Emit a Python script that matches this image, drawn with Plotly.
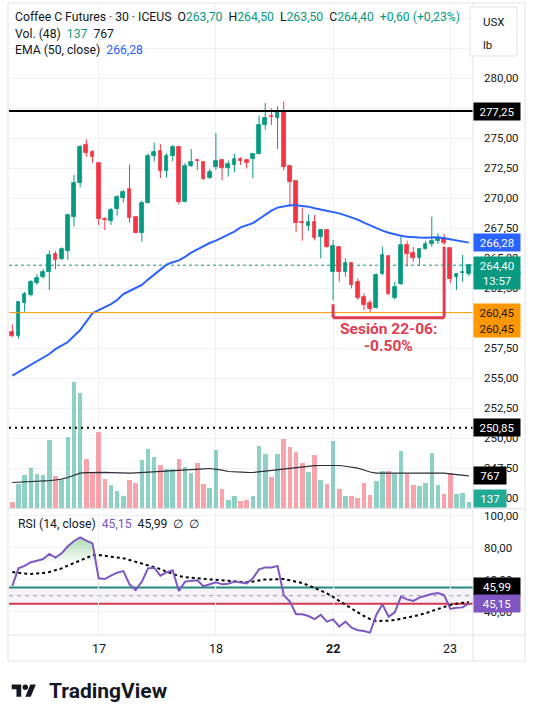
import numpy as np
import plotly.graph_objects as go

W, H = 535, 709

# 30-minute bars, oldest first (last bar = 23 Jun, 13:30)
opens = [258.83, 258.53, 261.28, 261.94, 262.94, 263.44, 263.86, 265.33, 264.89, 265.61,
         268.44, 271.22, 274.39, 273.83, 272.89, 268.22, 268.11, 269.11, 270.03, 270.72,
         268.39, 267.11, 269.61, 273.53, 273.94, 272.25, 273.53, 274.25, 269.70, 272.70,
         273.17, 273.00, 271.64, 272.61, 273.14, 272.50, 272.72, 273.22, 273.17, 273.22,
         273.70, 276.08, 276.81, 276.69, 277.14, 272.67, 271.42, 268.00, 267.67, 268.00,
         266.78, 267.33, 263.86, 265.94, 263.86, 264.56, 263.03, 261.78, 261.22, 260.86,
         263.64, 265.15, 261.70, 262.80, 266.08, 265.39, 265.03, 265.72, 266.17, 266.44,
         266.64, 265.83, 263.44, 263.72, 263.70]
highs = [259.47, 261.40, 262.17, 263.17, 263.67, 264.06, 265.61, 265.56, 265.89, 268.60,
         271.92, 274.42, 274.89, 274.00, 272.90, 268.39, 269.17, 270.22, 270.67, 272.78,
         268.40, 269.78, 273.72, 274.61, 274.50, 273.72, 274.42, 274.36, 272.92, 274.08,
         273.22, 273.00, 272.42, 275.42, 273.17, 273.14, 273.70, 273.39, 273.20, 273.70,
         276.86, 277.92, 277.47, 277.64, 278.03, 272.67, 271.45, 269.20, 268.64, 268.58,
         267.40, 267.39, 266.50, 265.96, 264.97, 264.60, 263.30, 262.05, 261.50, 263.72,
         265.94, 265.20, 263.03, 266.80, 266.44, 265.94, 265.80, 266.44, 268.44, 267.06,
         267.00, 265.85, 263.72, 265.25, 264.50]
lows = [258.40, 258.28, 260.53, 261.80, 262.75, 263.28, 262.33, 264.06, 264.83, 264.86,
        267.61, 270.89, 273.44, 272.94, 267.75, 267.33, 267.75, 268.53, 269.61, 267.94,
        267.10, 266.36, 269.55, 273.03, 271.64, 271.70, 273.08, 269.47, 269.67, 272.58,
        272.31, 271.50, 271.58, 272.33, 271.47, 271.78, 272.14, 272.75, 272.47, 271.64,
        273.64, 275.70, 276.08, 274.06, 272.33, 269.28, 267.14, 266.44, 267.25, 266.47,
        264.97, 265.85, 261.45, 263.03, 263.44, 262.47, 261.50, 260.67, 260.45, 260.80,
        263.58, 261.92, 261.55, 262.75, 264.30, 264.69, 264.33, 265.70, 265.94, 266.17,
        266.08, 262.89, 262.33, 263.03, 263.50]
closes = [258.47, 261.30, 262.00, 262.97, 263.31, 263.81, 265.22, 264.86, 265.72, 268.56,
          271.22, 274.22, 273.78, 273.44, 268.22, 268.17, 269.00, 270.05, 270.50, 268.31,
          267.11, 269.61, 273.50, 273.83, 272.28, 273.53, 274.25, 269.64, 272.67, 272.97,
          273.08, 271.61, 272.20, 273.08, 272.53, 272.80, 273.28, 273.06, 272.94, 273.64,
          276.08, 276.69, 276.75, 277.14, 272.56, 271.36, 267.92, 267.94, 268.00, 266.64,
          267.33, 265.94, 265.98, 263.80, 264.56, 262.75, 261.64, 261.10, 260.75, 263.58,
          265.22, 261.97, 262.61, 266.05, 265.36, 265.03, 265.78, 266.17, 266.44, 266.64,
          266.22, 263.22, 263.70, 263.80, 264.40]
volume = [138, 574, 791, 961, 816, 791, 1638, 767, 670, 1711,
          3042, 2776, 1179, 854, 1832, 695, 549, 404, 283, 670,
          598, 1154, 1421, 1227, 1033, 937, 937, 1179, 985, 840,
          1082, 574, 477, 1396, 453, 186, 283, 162, 186, 283,
          1493, 1300, 750, 1300, 1663, 1469, 1355, 1082, 864, 1275,
          670, 574, 1614, 453, 283, 283, 235, 598, 307, 646,
          888, 888, 816, 1372, 816, 549, 525, 598, 1324, 549,
          332, 840, 332, 356, 137]
vol_ma = [605, 610, 615, 620, 624, 629, 649, 666, 685, 726,
          787, 830, 842, 849, 854, 849, 845, 837, 832, 830,
          837, 847, 862, 871, 881, 891, 895, 903, 910, 920,
          927, 937, 944, 932, 903, 871, 859, 854, 849, 847,
          864, 878, 895, 910, 927, 944, 968, 992, 1009, 1014,
          1016, 1021, 1024, 1016, 999, 975, 951, 908, 859, 830,
          830, 830, 830, 835, 840, 842, 845, 847, 842, 837,
          830, 813, 799, 779, 767]
ema50 = [255.2, 255.5, 255.8, 256.1, 256.4, 256.7, 257.0, 257.4, 257.7, 258.0,
         258.5, 259.0, 259.7, 260.4, 260.65, 260.9, 261.15, 261.5, 262.0, 262.25,
         262.5, 262.75, 263.2, 263.6, 264.0, 264.45, 264.65, 264.8, 265.1, 265.45,
         265.72, 266.0, 266.25, 266.45, 266.7, 267.0, 267.2, 267.55, 267.7, 267.9,
         268.25, 268.6, 268.95, 269.2, 269.33, 269.4, 269.4, 269.35, 269.28, 269.15,
         269.05, 268.95, 268.85, 268.72, 268.55, 268.4, 268.2, 267.95, 267.72, 267.48,
         267.28, 267.1, 266.95, 266.85, 266.78, 266.72, 266.7, 266.69, 266.7, 266.72,
         266.65, 266.55, 266.45, 266.35, 266.28]
rsi = [56.1, 67.1, 68.6, 70.9, 71.9, 72.9, 76.1, 73.8, 76.5, 80.9,
       84.2, 86.5, 84.4, 82.7, 60.9, 60.4, 62.5, 64.4, 65.4, 57.1,
       53.6, 58.8, 67.1, 67.5, 62.5, 64.6, 65.9, 52.9, 58.8, 59.4,
       59.6, 55.9, 57.1, 58.4, 57.1, 57.5, 58.8, 58.2, 57.7, 60.9,
       66.5, 67.7, 67.7, 68.6, 50.4, 46.3, 38.4, 38.4, 37.3, 35.4,
       38.0, 33.8, 35.2, 30.7, 33.8, 30.0, 28.4, 27.9, 26.9, 38.0,
       44.6, 36.9, 39.6, 49.4, 47.7, 46.7, 48.8, 50.0, 51.1, 51.7,
       50.4, 41.7, 42.5, 42.7, 45.15]
rsi_ma = [64.8, 64.2, 63.8, 63.6, 63.8, 64.2, 64.8, 65.9, 67.1, 68.8,
          70.4, 72.1, 73.8, 75.2, 75.4, 75.0, 74.6, 74.0, 73.4, 72.3,
          71.1, 70.0, 69.0, 67.9, 66.7, 65.0, 63.4, 62.3, 61.5, 61.1,
          60.7, 60.4, 60.2, 60.0, 59.8, 59.4, 59.0, 58.6, 58.4, 58.8,
          59.6, 60.2, 60.2, 60.4, 60.4, 59.6, 58.8, 57.9, 56.5, 55.0,
          53.4, 51.5, 49.2, 46.7, 44.6, 42.1, 39.6, 37.3, 35.4, 34.2,
          34.2, 34.4, 34.8, 35.4, 36.3, 37.1, 37.9, 39.0, 40.4, 41.7,
          43.1, 44.2, 45.0, 45.4, 45.99]

day_ticks = [14, 33, 52, 71]          # first bar of each session
day_labels = ["17", "18", "<b>22</b>", "23"]
price_ticks = [245.0, 247.5, 250.0, 252.5, 255.0, 257.5, 260.0, 262.5, 265.0,
               267.5, 270.0, 272.5, 275.0, 277.5, 280.0, 282.5, 285.0]
price_labels = [245.0, 247.5, 250.0, 252.5, 255.0, 257.5, 262.5, 265.0,
                267.5, 270.0, 272.5, 275.0, 280.0]
rsi_ticks = [40, 60, 80, 100]

# drawn levels
resistance = 277.25
support = 260.45
low_line = 250.85
rsi_upper, rsi_mid, rsi_lower = 55.2, 50, 45
session_start, session_end = 52, 70

GREEN = "#089981"
RED = "#f23645"
TXT = "#131722"
GRID = "#eef0f4"
BORDER = "#e0e3eb"
ANNOT = "#e23c50"


def px(x):
    return x / W


def py(y):
    return 1 - y / H


def fmt(v):
    return f"{v:.2f}".replace(".", ",")


idx = np.arange(len(opens))
o, hi, lo, c = map(np.array, (opens, highs, lows, closes))
up = c >= o
col = np.where(up, GREEN, RED)
vol_col = np.where(up, "rgba(8,153,129,0.45)", "rgba(242,54,69,0.45)")

fig = go.Figure()

# volume (overlay on price pane)
fig.add_trace(go.Bar(x=idx, y=volume, width=0.74, marker=dict(color=vol_col, line_width=0),
                     xaxis="x", yaxis="y3", hoverinfo="skip"))
fig.add_trace(go.Scatter(x=idx, y=vol_ma, mode="lines", line=dict(color="#2a2e39", width=1.2),
                         xaxis="x", yaxis="y3", hoverinfo="skip"))

# candles: wicks + bodies
for mask, colr in ((up, GREEN), (~up, RED)):
    wx, wy = [], []
    for i in idx[mask]:
        wx += [i, i, None]
        wy += [lo[i], hi[i], None]
    fig.add_trace(go.Scatter(x=wx, y=wy, mode="lines", line=dict(color=colr, width=1),
                             xaxis="x", yaxis="y", hoverinfo="skip"))
fig.add_trace(go.Bar(x=idx, y=np.abs(c - o), base=np.minimum(o, c), width=0.6,
                     marker=dict(color=col, line=dict(color=col, width=0.8)),
                     xaxis="x", yaxis="y", hoverinfo="skip"))

fig.add_trace(go.Scatter(x=idx, y=ema50, mode="lines", line=dict(color="#2962ff", width=2),
                         xaxis="x", yaxis="y", hoverinfo="skip"))

# RSI pane
rsi_arr = np.array(rsi)
fig.add_trace(go.Scatter(x=idx, y=[70] * len(idx), mode="lines", line=dict(width=0),
                         xaxis="x2", yaxis="y2", hoverinfo="skip"))
fig.add_trace(go.Scatter(x=idx, y=np.maximum(rsi_arr, 70), mode="lines", line=dict(width=0),
                         fill="tonexty",
                         fillgradient=dict(type="vertical", start=70, stop=88,
                                           colorscale=[[0, "rgba(76,175,80,0)"],
                                                       [1, "rgba(76,175,80,0.5)"]]),
                         xaxis="x2", yaxis="y2", hoverinfo="skip"))
fig.add_trace(go.Scatter(x=idx, y=rsi_ma, mode="lines",
                         line=dict(color="#000000", width=2, dash="3px,3px"),
                         xaxis="x2", yaxis="y2", hoverinfo="skip"))
fig.add_trace(go.Scatter(x=idx, y=rsi, mode="lines", line=dict(color="#7e57c2", width=2),
                         xaxis="x2", yaxis="y2", hoverinfo="skip"))

xr = [-0.535, 74.68]
axis_common = dict(showticklabels=False, ticks="", zeroline=False, showline=False,
                   gridcolor=GRID, gridwidth=1, fixedrange=True)

fig.update_layout(
    width=W, height=H, margin=dict(l=0, r=0, t=0, b=0),
    paper_bgcolor="white", plot_bgcolor="white",
    showlegend=False, barmode="overlay", bargap=0,
    font=dict(family="Roboto, sans-serif", size=11, color=TXT),
    xaxis=dict(domain=[px(9), px(473)], range=xr, tickvals=day_ticks, anchor="y", **axis_common),
    yaxis=dict(domain=[py(508), py(4)], range=[275 - 370 / 12, 275 + 134 / 12],
               tickvals=price_ticks, anchor="x", **axis_common),
    yaxis3=dict(overlaying="y", range=[-12, 12185], visible=False, anchor="x", fixedrange=True),
    xaxis2=dict(domain=[px(9), px(473)], range=xr, tickvals=day_ticks, anchor="y2", **axis_common),
    yaxis2=dict(domain=[py(635), py(509)], range=[25.4375, 104.1875],
                tickvals=rsi_ticks, anchor="x2", **axis_common),
)

shapes = []


def hline(y, yref, color, width, dash="solid", layer="above"):
    shapes.append(dict(type="line", xref="paper", yref=yref, x0=px(9), x1=px(473), y0=y, y1=y,
                       line=dict(color=color, width=width, dash=dash), layer=layer))


def pline(x0, y0, x1, y1, color=BORDER, width=1):
    shapes.append(dict(type="line", xref="paper", yref="paper", x0=px(x0), x1=px(x1),
                       y0=py(y0), y1=py(y1), line=dict(color=color, width=width), layer="above"))


# price pane levels
hline(resistance, "y", "#000000", 2)
hline(support, "y", "#ff9800", 1)
hline(closes[-1], "y", GREEN, 1, "dot")
hline(low_line, "y", "#000000", 2, "2px,4px")

# RSI bands
shapes.append(dict(type="rect", xref="paper", yref="y2", x0=px(9), x1=px(473),
                   y0=rsi_lower, y1=rsi_upper, fillcolor="rgba(126,87,194,0.08)",
                   line_width=0, layer="below"))
hline(rsi_mid, "y2", "#9598a1", 1, "4px,4px", "below")
hline(rsi_upper, "y2", "#22897c", 2, layer="below")
hline(rsi_lower, "y2", "#d6384d", 2, layer="below")

# session bracket
bottom = 260.02
for x0, y0, x1, y1 in ((session_start, 261.15, session_start, bottom),
                       (session_start, bottom, session_end, bottom),
                       (session_end, bottom, session_end, 265.95)):
    shapes.append(dict(type="line", xref="x", yref="y", x0=x0, y0=y0, x1=x1, y1=y1,
                       line=dict(color=ANNOT, width=3), layer="above"))

# frame and pane separators
shapes.append(dict(type="rect", xref="paper", yref="paper", x0=px(8), x1=px(525),
                   y0=py(661), y1=py(3), line=dict(color=BORDER, width=1), layer="above"))
pline(473, 3, 473, 661)
pline(8, 508.5, 525, 508.5)
pline(8, 635, 525, 635)

# currency / unit box
shapes.append(dict(type="rect", xref="paper", yref="paper", x0=px(470), x1=px(517),
                   y0=py(56), y1=py(7), line=dict(color=BORDER, width=1),
                   fillcolor="white", layer="above"))


# TradingView logo
def poly(pts):
    return "M " + " L ".join(f"{px(x):.5f},{py(y):.5f}" for x, y in pts) + " Z"


lx, ly, s = 11.7, 684.5, 0.68
tv_t = [(14, 22), (7, 22), (7, 11), (0, 11), (0, 4), (14, 4)]
tv_v = [(28, 22), (20, 22), (27.5, 4), (35.5, 4)]
for pts in (tv_t, tv_v):
    shapes.append(dict(type="path", xref="paper", yref="paper",
                       path=poly([(lx + a * s, ly + (b - 4) * s) for a, b in pts]),
                       fillcolor=TXT, line_width=0, layer="above"))
cx, cy, r = lx + 20 * s, ly + 4 * s, 4 * s
shapes.append(dict(type="circle", xref="paper", yref="paper", x0=px(cx - r), x1=px(cx + r),
                   y0=py(cy + r), y1=py(cy - r), fillcolor=TXT, line_width=0, layer="above"))

ann = []


def text(x, y, t, size=11, color=TXT, anchor="left", **kw):
    ann.append(dict(x=px(x), y=py(y), xref="paper", yref="paper", xanchor=anchor,
                    yanchor="middle", text=t, showarrow=False,
                    font=dict(size=size, color=color), **kw))


def g(t, color=GREEN):
    return f"<span style='color:{color}'>{t}</span>"


sp = "\u00a0\u00a0"
chg = closes[-1] - closes[-2]
pct = chg / closes[-2] * 100
line1 = ("Coffee C Futures · 30 · ICEUS" + sp +
         "O" + g(fmt(opens[-1])) + sp + "H" + g(fmt(highs[-1])) + sp +
         "L" + g(fmt(lows[-1])) + sp + "C" + g(fmt(closes[-1])) + sp +
         g(f"+{fmt(chg)} (+{fmt(pct)}%)"))
text(13, 17, line1, size=12.2)
text(13, 34, "Vol. (48)" + sp + g(str(volume[-1])) + sp + str(vol_ma[-1]), size=12.2)
text(13, 50, "EMA (50, close)" + sp + g(fmt(ema50[-1]), "#2962ff"), size=12.2)
text(16, 524, "RSI (14, close)" + sp + g(fmt(rsi[-1]), "#7e57c2") + sp +
     fmt(rsi_ma[-1]) + sp + "∅" + sp + "∅", size=12.2)
text(481, 22, "USX", size=11.5)
text(481, 45, "lb", size=11.5)

# price / RSI axis labels
for p in price_labels:
    ann.append(dict(x=px(482), xref="paper", xanchor="left", y=p, yref="y", text=fmt(p),
                    showarrow=False, font=dict(size=11.5, color=TXT)))
for t in rsi_ticks:
    ann.append(dict(x=px(482), xref="paper", xanchor="left", y=t, yref="y2", text=fmt(t),
                    showarrow=False, font=dict(size=11.5, color=TXT)))


def tag(t, y, yref, bg, fg="white", w=42, yshift=0):
    ann.append(dict(x=px(473), xref="paper", xanchor="left", y=y, yref=yref, yanchor="middle",
                    text=t, showarrow=False, bgcolor=bg, font=dict(size=11.5, color=fg),
                    width=w, height=13, borderpad=2, align="center", yshift=yshift))


tag(fmt(resistance), resistance, "y", "#000000")
tag(fmt(ema50[-1]), ema50[-1], "y", "#2962ff")
tag(fmt(closes[-1]), closes[-1], "y", GREEN)
tag("13:57", closes[-1], "y", GREEN, yshift=-15)
tag(fmt(support), support, "y", "#ff9800", fg=TXT)
tag(fmt(support), support, "y", "#ff9800", fg=TXT, yshift=-16)
tag(fmt(low_line), low_line, "y", "#000000")
tag(str(vol_ma[-1]), vol_ma[-1], "y3", "#000000", w=28)
tag(str(volume[-1]), volume[-1], "y3", "#22ab94", w=28, yshift=3)
tag(fmt(rsi_ma[-1]), rsi_ma[-1], "y2", "#000000", yshift=16)
tag(fmt(rsi[-1]), rsi[-1], "y2", "#7e57c2")

# session labels on the time axis
for d, lab in zip(day_ticks, day_labels):
    ann.append(dict(x=d, xref="x2", y=py(648), yref="paper", text=lab, showarrow=False,
                    xanchor="center", yanchor="middle", font=dict(size=12.5, color=TXT)))

# session annotation
mid = (session_start + session_end) / 2
ann.append(dict(x=mid, xref="x", y=py(329), yref="paper", text="<b>Sesión 22-06:</b>",
                showarrow=False, font=dict(size=15.5, color=ANNOT), xanchor="center", yanchor="middle"))
ann.append(dict(x=mid, xref="x", y=py(346), yref="paper", text="<b>-0.50%</b>",
                showarrow=False, font=dict(size=15.5, color=ANNOT), xanchor="center", yanchor="middle"))

text(47, 691, "<b>TradingView</b>", size=21, color=TXT)

fig.update_layout(shapes=shapes, annotations=ann)

fig.write_html("out.html", config={"displayModeBar": False},
               post_script="document.body.style.margin='0';")
